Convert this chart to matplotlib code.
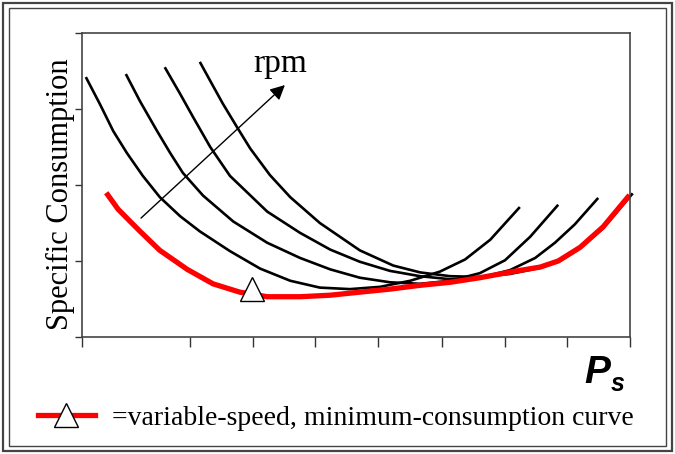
import matplotlib.pyplot as plt
from matplotlib.lines import Line2D
from matplotlib.patches import Rectangle

# power (0-100) and specific consumption (arbitrary units)
c1_x = [0.7, 3.3, 5.7, 8.2, 11.1, 14.2, 17.9, 21.5, 27.0, 32.5, 38.0, 43.4, 48.9, 54.4, 59.9, 65.3, 69.9, 74.5, 79.9]
c1_y = [3.42, 3.06, 2.71, 2.42, 2.12, 1.84, 1.59, 1.39, 1.13, 0.90, 0.74, 0.65, 0.63, 0.66, 0.74, 0.86, 1.02, 1.28, 1.71]

c2_x = [8.0, 10.6, 13.7, 16.1, 18.4, 22.1, 27.6, 33.8, 39.8, 45.3, 50.7, 56.2, 61.7, 67.2, 72.6, 77.2, 81.8, 86.9]
c2_y = [3.46, 3.10, 2.71, 2.42, 2.16, 1.86, 1.52, 1.24, 1.04, 0.89, 0.78, 0.72, 0.70, 0.74, 0.84, 1.01, 1.32, 1.74]

c3_x = [15.1, 17.9, 20.3, 23.4, 27.0, 33.8, 39.8, 45.3, 50.7, 56.2, 61.7, 67.2, 72.6, 78.1, 82.7, 86.3, 89.9, 94.2]
c3_y = [3.55, 3.20, 2.89, 2.50, 2.12, 1.65, 1.37, 1.15, 0.99, 0.87, 0.80, 0.76, 0.78, 0.88, 1.04, 1.24, 1.48, 1.83]

c4_x = [21.5, 23.4, 25.7, 28.3, 30.7, 34.3, 38.0, 43.4, 50.7, 56.8, 61.7, 67.2, 72.6, 78.1, 83.6, 87.2, 90.9, 95.1, 100.5]
c4_y = [3.62, 3.37, 3.07, 2.76, 2.48, 2.13, 1.84, 1.50, 1.14, 0.94, 0.85, 0.80, 0.79, 0.83, 0.91, 1.00, 1.17, 1.43, 1.89]

# variable-speed minimum consumption envelope
env_x = [4.7, 6.6, 8.8, 10.6, 14.2, 19.2, 23.9, 28.8, 33.8, 39.8, 45.3, 50.7, 56.2, 61.7, 67.2, 72.6, 78.6, 83.6, 86.9, 90.9, 95.1, 99.6]
env_y = [1.87, 1.68, 1.52, 1.39, 1.14, 0.89, 0.70, 0.59, 0.53, 0.53, 0.55, 0.59, 0.63, 0.68, 0.72, 0.78, 0.86, 0.92, 1.00, 1.18, 1.45, 1.84]

opt_x, opt_y = 31.0, 0.63
x_ticks = [0, 19.7, 31.2, 42.5, 54.0, 65.7, 77.2, 88.5, 100]
y_ticks = [0, 1, 2, 3, 4]

serif = 'Liberation Serif'

fig = plt.figure(figsize=(6.75, 4.54), dpi=100)
ax = fig.add_axes([82 / 675, 117 / 454, 548 / 675, 304 / 454])

for xs, ys in [(c1_x, c1_y), (c2_x, c2_y), (c3_x, c3_y), (c4_x, c4_y)]:
    ax.plot(xs, ys, color='black', lw=1.9, clip_on=False, solid_capstyle='butt')
ax.plot(env_x, env_y, color='#ff0000', lw=3.8)
ax.plot([opt_x], [opt_y], marker='^', ms=17, mfc='white', mec='black', mew=1.0, zorder=5)

ax.annotate('', xy=(37.4, 3.34), xytext=(10.4, 1.54),
            arrowprops=dict(arrowstyle='-|>', color='black', lw=1.0, mutation_scale=22))
ax.text(36.1, 3.49, 'rpm', family=serif, fontsize=24, ha='center', va='baseline')

ax.set_xlim(0, 100)
ax.set_ylim(0, 4)
ax.set_xticks(x_ticks)
ax.set_yticks(y_ticks)
ax.set_xticklabels([])
ax.set_yticklabels([])
ax.tick_params(axis='x', direction='out', length=7.5, width=1, color='#333333')
ax.tick_params(axis='y', direction='out', length=5, width=1, color='#333333')
for sp in ax.spines.values():
    sp.set_color('#444444')
    sp.set_linewidth(1.2)

ax.set_ylabel('Specific Consumption', family=serif, fontsize=22)
ax.yaxis.set_label_coords(-0.012, 0.47)

fig.text(584 / 675, 1 - 383 / 454, 'P', family='Liberation Sans', weight='bold', style='italic',
         fontsize=28, ha='left', va='baseline')
fig.text(611 / 675, 1 - 391 / 454, 's', family='Liberation Sans', weight='bold', style='italic',
         fontsize=18, ha='left', va='baseline')

handle = Line2D([], [], color='#ff0000', lw=3.8, marker='^', ms=17, mfc='white', mec='black', mew=1.0)
fig.legend(handles=[handle], labels=['=variable-speed, minimum-consumption curve'],
           loc='center left', bbox_to_anchor=(38 / 675, 1 - 418 / 454), frameon=False,
           borderaxespad=0, borderpad=0, handlelength=2.05, handletextpad=0.6,
           prop={'family': serif, 'size': 20})

# double frame round the whole picture
fig.add_artist(Rectangle((3 / 675, 3 / 454), 669 / 675, 448 / 454, transform=fig.transFigure,
                         fill=False, lw=1.6, ec='#444444'))
fig.add_artist(Rectangle((9 / 675, 8 / 454), 657 / 675, 438 / 454, transform=fig.transFigure,
                         fill=False, lw=1.0, ec='#444444'))

fig.savefig('out.png', dpi=100)
